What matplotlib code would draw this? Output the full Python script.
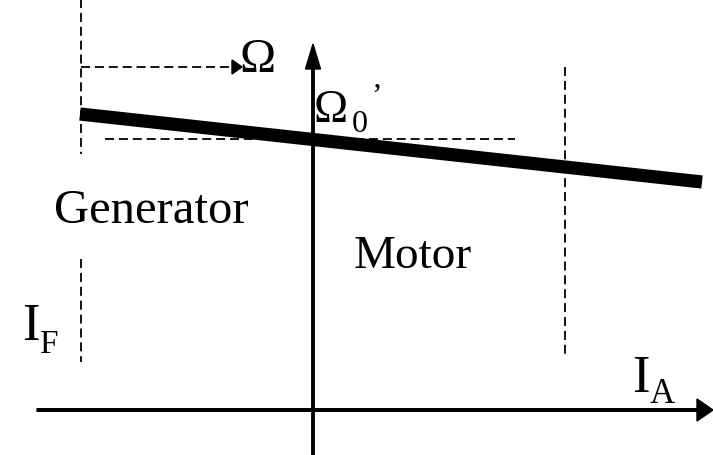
import matplotlib.pyplot as plt

plt.rcParams['font.family'] = ['Liberation Serif', 'DejaVu Serif']
plt.rcParams['lines.scale_dashes'] = False

# coordonnees : origine a l'intersection des axes (I_A = 0, Omega = 0), unites ~ pixels
# caracteristique vitesse / courant (droite epaisse)
ia_line = [-233, 389]
omega_line = [296, 228]

# point Omega_0' sur l'axe vertical
ia_0 = [0]
omega_0 = [270]

# limites des axes
axe_ia = [-276, 400]
axe_omega = [-45, 366]

# lignes pointillees
tir_h_ia = [-208, 202]       # horizontale au niveau de Omega_0
tir_h_omega = [271, 271]
gauche_ia = -232             # verticale gauche (zone generateur)
gauche_haut = [411, 256]
gauche_bas = [151, 48]
droite_ia = 252              # verticale droite (zone moteur)
droite_omega = [343, 56]
fleche_omega_ia = [-232, -71]  # petite fleche vers Omega
fleche_omega_y = 343

fig = plt.figure(figsize=(7.13, 4.56), dpi=100)
ax = fig.add_axes([0, 0, 1, 1])
ax.set_xlim(-313, 400)
ax.set_ylim(-45, 411)
ax.axis('off')

dash = dict(color='black', lw=1.3, dashes=(6.5, 3.5))

# axes avec fleches
ax.arrow(axe_ia[0], 0, axe_ia[1] - axe_ia[0], 0, width=2.6, head_width=22,
         head_length=16, length_includes_head=True, color='black')
ax.arrow(0, axe_omega[0], 0, axe_omega[1] - axe_omega[0], width=2.4, head_width=15,
         head_length=25, length_includes_head=True, color='black')

# pointilles
ax.plot(tir_h_ia, tir_h_omega, **dash)
ax.plot([gauche_ia, gauche_ia], gauche_haut, **dash)
ax.plot([gauche_ia, gauche_ia], gauche_bas, **dash)
ax.plot([droite_ia, droite_ia], droite_omega, **dash)
ax.plot([fleche_omega_ia[0], fleche_omega_ia[1] - 9], [fleche_omega_y] * 2, **dash)
ax.arrow(fleche_omega_ia[1] - 10, fleche_omega_y, 10, 0, width=0.5, head_width=14,
         head_length=10, length_includes_head=True, color='black')

# caracteristique
ax.plot(ia_line, omega_line, color='black', lw=9.5, solid_capstyle='butt')
ax.plot(ia_0, omega_0, 'o', color='black', ms=4.5)

# textes
ax.text(-73, 339, 'Ω', fontsize=35, ha='left', va='baseline')
ax.text(1, 289, 'Ω', fontsize=33, ha='left', va='baseline')
ax.text(39, 279, '0', fontsize=23, ha='left', va='baseline')
ax.text(58, 306, '’', fontsize=23, ha='left', va='baseline')
ax.text(-259, 188, 'Generator', fontsize=35, ha='left', va='baseline')
ax.text(41, 143, 'Motor', fontsize=34, ha='left', va='baseline')
ax.text(-291, 71, 'I', fontsize=38, ha='left', va='baseline')
ax.text(-274, 58, 'F', fontsize=24, ha='left', va='baseline')
ax.text(319, 19, 'I', fontsize=38, ha='left', va='baseline')
ax.text(337, 8, 'A', fontsize=25, ha='left', va='baseline')

fig.savefig('out.png', dpi=100)
